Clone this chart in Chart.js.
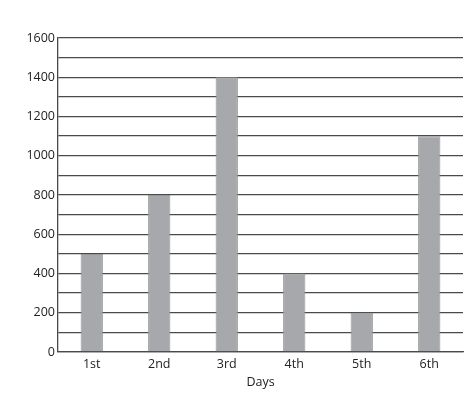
<!DOCTYPE html>
<html>
<head>
<meta charset="utf-8">
<script src="https://cdn.jsdelivr.net/npm/chart.js@4"></script>
<style>
  html, body { margin: 0; padding: 0; background: #fff; }
  #wrap { width: 474px; height: 403px; }
</style>
</head>
<body>
<div id="wrap"><canvas id="chart"></canvas></div>
<script>
// chart data
const days = ["1st", "2nd", "3rd", "4th", "5th", "6th"];
const values = [500, 800, 1400, 400, 200, 1100];
const yMax = 1600;
const yStep = 100;

const gridColor = "#4a4a4a";
const textColor = "#222";

new Chart(document.getElementById("chart"), {
    type: "bar",
    data: {
        labels: days,
        datasets: [{
            data: values,
            backgroundColor: "#a7a8ab",
            borderColor: "#939598",
            borderWidth: 1,
            barPercentage: 0.33,
            categoryPercentage: 1
        }]
    },
    options: {
        responsive: true,
        maintainAspectRatio: false,
        animation: false,
        layout: { padding: { top: 38, right: 11, bottom: 9, left: 0 } },
        plugins: {
            legend: { display: false },
            tooltip: { enabled: false }
        },
        scales: {
            x: {
                grid: { display: false, drawTicks: false },
                border: { color: gridColor, width: 1.3 },
                ticks: { color: textColor, padding: 5, font: { family: "'Open Sans'", size: 12.5 } },
                title: {
                    display: true,
                    text: "Days",
                    color: textColor,
                    font: { family: "'Open Sans'", size: 12.5 },
                    padding: { top: 2 }
                },
                afterFit: function (s) { s.height = 42; }
            },
            y: {
                min: 0,
                max: yMax,
                grid: { color: gridColor, lineWidth: 1.3, drawTicks: false },
                border: { color: gridColor, width: 1.3 },
                ticks: {
                    stepSize: yStep,
                    autoSkip: false,
                    padding: 3,
                    color: textColor,
                    font: { family: "'Open Sans'", size: 12.5 },
                    callback: function (v) { return v % 200 === 0 ? v : ""; }
                },
                afterFit: function (s) { s.width = 58; }
            }
        }
    }
});
</script>
</body>
</html>
